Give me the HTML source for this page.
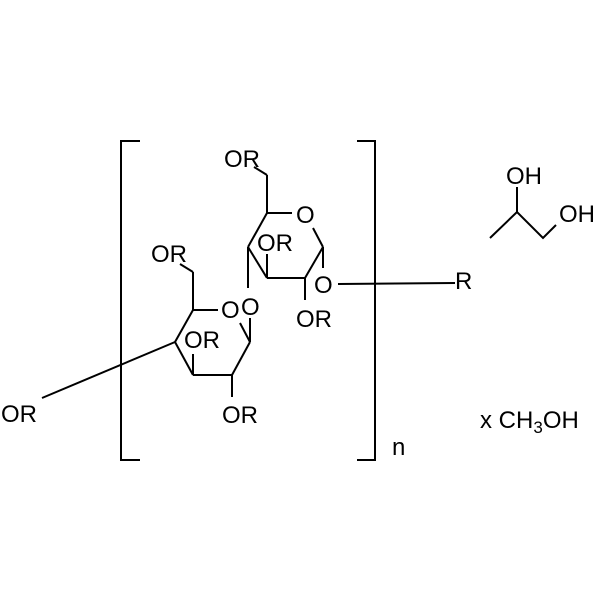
<!DOCTYPE html>
<html><head><style>body{margin:0;background:#fff}</style></head><body>
<svg width="600" height="600" viewBox="0 0 600 600" xmlns="http://www.w3.org/2000/svg">
<g stroke="#000" stroke-width="2" fill="none" stroke-linecap="butt">
<polyline points="140,141 121,141 121,460 140,460"/>
<polyline points="357,141 375,141 375,460 357,460"/>
<line x1="267" y1="213" x2="292" y2="213"/>
<line x1="313" y1="228" x2="323" y2="247"/>
<line x1="323" y1="247" x2="305" y2="278"/>
<line x1="305" y1="278" x2="267" y2="278"/>
<line x1="267" y1="278" x2="248" y2="247"/>
<line x1="248" y1="247" x2="267" y2="213"/>
<line x1="267" y1="213" x2="267" y2="175"/>
<line x1="267" y1="175" x2="254" y2="167"/>
<line x1="267" y1="278" x2="267" y2="254"/>
<line x1="305" y1="278" x2="305" y2="300"/>
<line x1="323" y1="247" x2="323" y2="268"/>
<line x1="338" y1="284" x2="455" y2="283"/>
<line x1="248" y1="247" x2="248" y2="288"/>
<line x1="193" y1="310" x2="218" y2="310"/>
<line x1="240" y1="323" x2="250" y2="342"/>
<line x1="250" y1="342" x2="232" y2="375"/>
<line x1="232" y1="375" x2="193" y2="375"/>
<line x1="193" y1="375" x2="175" y2="342"/>
<line x1="175" y1="342" x2="193" y2="310"/>
<line x1="193" y1="310" x2="193" y2="272"/>
<line x1="193" y1="272" x2="180" y2="264"/>
<line x1="193" y1="375" x2="193" y2="354"/>
<line x1="232" y1="375" x2="232" y2="397"/>
<line x1="250" y1="342" x2="250" y2="318"/>
<line x1="175" y1="342" x2="42" y2="398"/>
<polyline points="490,238 517,212 543,238 556,225"/>
<line x1="517" y1="212" x2="517" y2="187"/>
</g>
<g font-family="Liberation Sans, sans-serif" font-size="24" fill="#000">
<text x="224" y="167">OR</text>
<text x="296" y="223">O</text>
<text x="257" y="251">OR</text>
<text x="314" y="293">O</text>
<text x="296" y="327">OR</text>
<text x="241" y="315">O</text>
<text x="151" y="262">OR</text>
<text x="221" y="318">O</text>
<text x="184" y="348">OR</text>
<text x="222" y="423">OR</text>
<text x="1" y="422">OR</text>
<text x="455" y="289">R</text>
<text x="506" y="184">OH</text>
<text x="559" y="222">OH</text>
<text x="392" y="455">n</text>
<text x="480" y="428">x CH<tspan font-size="17" dy="5">3</tspan><tspan dy="-5">OH</tspan></text>
</g>
</svg>
</body></html>
